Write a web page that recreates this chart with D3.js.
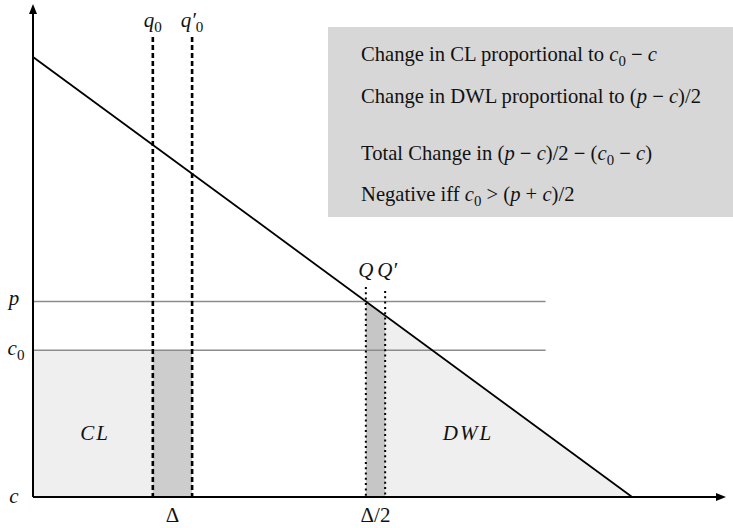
<!DOCTYPE html>
<html><head><meta charset="utf-8">
<script src="https://cdn.jsdelivr.net/npm/d3@7"></script>
<style>body{margin:0;background:#fff}svg{display:block}</style>
</head><body>
<script>
// ---- data (economic diagram, arbitrary units) ----
const demandIntercept = 9;      // price at q = 0
const demandEndQ = 9;           // quantity where price = 0
const priceLevels = [{name:"p", value:4}, {name:"c0", value:3}, {name:"c", value:0}];
const lineEndQ = 7.7;           // horizontal p / c0 lines extent
const q0 = 1.8, q0p = 2.39;     // q0, q0'
const Q = 5.0, Qp = 5.29;       // Q, Q'
const xMax = 10.35, yMax = 10;
const boxLines = [
  [["Change in CL proportional to ",""],["c","i"],["0","sub"],[" − ",""],["c","i"]],
  [["Change in DWL proportional to (",""],["p","i"],[" − ",""],["c","i"],[")/2",""]],
  [["Total Change in (",""],["p","i"],[" − ",""],["c","i"],[")/2 − (",""],["c","i"],["0","sub"],[" − ",""],["c","i"],[")",""]],
  [["Negative iff ",""],["c","i"],["0","sub"],[" > (",""],["p","i"],[" + ",""],["c","i"],[")/2",""]]
];

const W = 733, H = 528;
const svg = d3.select("body").append("svg").attr("width", W).attr("height", H);
const x = d3.scaleLinear().domain([0, xMax]).range([33, 722]);
const y = d3.scaleLinear().domain([0, yMax]).range([497, 8]);
const demand = q => demandIntercept - demandIntercept * q / demandEndQ;
const font = "'Liberation Serif', 'DejaVu Serif', serif";
const pVal = priceLevels[0].value, c0Val = priceLevels[1].value;

// fills
svg.append("rect").attr("x", x(0)).attr("y", y(c0Val)).attr("width", x(q0) - x(0)).attr("height", y(0) - y(c0Val)).attr("fill", "#efefef");
svg.append("rect").attr("x", x(q0)).attr("y", y(c0Val)).attr("width", x(q0p) - x(q0)).attr("height", y(0) - y(c0Val)).attr("fill", "#cdcdcd");
const line = d3.line().x(d => x(d[0])).y(d => y(d[1]));
svg.append("path").attr("d", line([[Qp, demand(Qp)], [demandEndQ, 0], [Qp, 0]]) + "Z").attr("fill", "#efefef");
svg.append("path").attr("d", line([[Q, demand(Q)], [Qp, demand(Qp)], [Qp, 0], [Q, 0]]) + "Z").attr("fill", "#c6c6c6");

// text box
svg.append("rect").attr("x", 328).attr("y", 27).attr("width", W - 328).attr("height", 190).attr("fill", "#d7d7d7");

// horizontal price lines
[pVal, c0Val].forEach(v => {
  svg.append("line").attr("x1", x(0)).attr("x2", x(lineEndQ)).attr("y1", y(v)).attr("y2", y(v))
    .attr("stroke", "#8c8c8c").attr("stroke-width", 1.5);
});

// dashed q0, q0'
[q0, q0p].forEach(q => {
  svg.append("line").attr("x1", x(q)).attr("x2", x(q)).attr("y1", 37).attr("y2", y(0))
    .attr("stroke", "#000").attr("stroke-width", 2.6).attr("stroke-dasharray", "5,3");
});
// dotted Q, Q'
[[Q, 287], [Qp, 291]].forEach(([q, top]) => {
  svg.append("line").attr("x1", x(q)).attr("x2", x(q)).attr("y1", top).attr("y2", y(0))
    .attr("stroke", "#000").attr("stroke-width", 2).attr("stroke-dasharray", "2,3.3");
});

// demand line
svg.append("path").attr("d", line([[0, demandIntercept], [demandEndQ, 0]])).attr("stroke", "#000").attr("stroke-width", 1.8).attr("fill", "none");

// axes with arrows
const defs = svg.append("defs");
defs.append("marker").attr("id", "arr").attr("viewBox", "0 0 10 10").attr("refX", 2).attr("refY", 5)
  .attr("markerWidth", 5).attr("markerHeight", 5).attr("orient", "auto")
  .append("path").attr("d", "M0,1 L10,5 L0,9 Z").attr("fill", "#000");
svg.append("line").attr("x1", x(0)).attr("y1", y(0)).attr("x2", x(xMax) - 4).attr("y2", y(0))
  .attr("stroke", "#000").attr("stroke-width", 2).attr("marker-end", "url(#arr)");
svg.append("line").attr("x1", x(0)).attr("y1", y(0)).attr("x2", x(0)).attr("y2", y(yMax) + 4)
  .attr("stroke", "#000").attr("stroke-width", 2).attr("marker-end", "url(#arr)");

// helper for math-styled text
function mtext(sel, segs, size) {
  let prevSub = false;
  segs.forEach(([t, s]) => {
    const ts = sel.append("tspan").text(t);
    if (s === "i") ts.attr("font-style", "italic");
    if (s === "sub") ts.attr("font-size", size * 0.72).attr("dy", size * 0.22);
    else if (prevSub) ts.attr("dy", -size * 0.22);
    prevSub = (s === "sub");
  });
}
function label(xp, yp, segs, size, anchor) {
  const t = svg.append("text").attr("x", xp).attr("y", yp).attr("font-family", font).attr("font-size", size)
    .attr("text-anchor", anchor || "middle").attr("fill", "#111");
  mtext(t, segs, size);
  return t;
}

// box text, sized so the first line spans the same width as in the figure
const boxY = [61, 103, 160, 201];
const probe = label(361, -100, boxLines[0], 20, "start");
const boxSize = 20 * 296 / probe.node().getComputedTextLength();
probe.remove();
boxLines.forEach((segs, i) => label(361, boxY[i], segs, boxSize, "start"));

// axis labels
const ls = 21;
label(14, y(pVal) + 4, [["p","i"]], ls, "middle");
label(16, y(c0Val) + 5, [["c","i"],["0","sub"]], ls, "middle");
label(14, y(0) + 6, [["c","i"]], ls, "middle");
label(x(q0), 27, [["q","i"],["0","sub"]], ls, "middle");
label(x(q0p), 27, [["q′","i"],["0","sub"]], ls, "middle");
label(x(Q), 277, [["Q","i"]], ls, "middle");
label(x(Qp) + 2, 277, [["Q′","i"]], ls, "middle");
label((x(q0) + x(q0p)) / 2, 522, [["Δ",""]], ls, "middle");
label((x(Q) + x(Qp)) / 2, 522, [["Δ/2",""]], ls, "middle");
label(95, 440, [["CL","i"]], ls, "middle").attr("letter-spacing", 2);
label(468, 440, [["DWL","i"]], ls, "middle").attr("letter-spacing", 2);
</script>
</body></html>
